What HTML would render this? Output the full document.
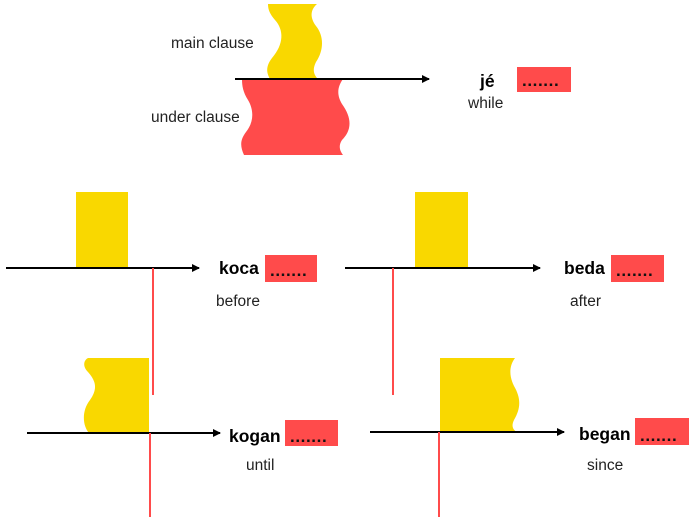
<!DOCTYPE html>
<html><head><meta charset="utf-8"><style>
html,body{margin:0;padding:0;background:#fff;}
svg{display:block;}
text{font-family:"Liberation Sans",Arial,sans-serif;}
.b{font-weight:bold;font-size:17.5px;fill:#000;}
.n{font-size:15.5px;fill:#222;}
.d{font-weight:bold;font-size:17px;fill:#111;letter-spacing:0.6px;}
</style></head><body>
<svg width="694" height="519" viewBox="0 0 694 519" xmlns="http://www.w3.org/2000/svg">
<defs>
<marker id="ah" markerWidth="8" markerHeight="8" refX="7" refY="4" orient="auto" markerUnits="userSpaceOnUse">
<path d="M0,0 L8,4 L0,8 z" fill="#000"/></marker>
</defs>
<!-- top -->
<path d="M268,4 L317,4 C310,10 310,18 316,26 C324,36 324,50 316,62 C312,70 314,75 318,79 L270,79 C266,72 266,66 272,58 C284,44 284,30 275,20 C270,14 268,10 268,4 Z" fill="#f9d800"/>
<path d="M242,79 L343,79 C338,86 336,94 342,104 C352,118 352,130 342,140 C338,146 340,151 343,155 L244,155 C240,146 240,140 246,132 C254,122 254,110 248,100 C243,92 242,86 242,79 Z" fill="#ff4b4b"/>
<line x1="235" y1="79" x2="429" y2="79" stroke="#000" stroke-width="2" marker-end="url(#ah)"/>
<text x="171" y="48" class="n">main clause</text>
<text x="151" y="122" class="n">under clause</text>
<text x="480" y="87" class="b">jé</text>
<rect x="517" y="67" width="54" height="25" fill="#ff4b4b"/>
<text x="522" y="86" class="d">.......</text>
<text x="468" y="108" class="n">while</text>

<!-- panel 1 -->
<rect x="76" y="192" width="52" height="76" fill="#f9d800"/>
<line x1="6" y1="268" x2="199" y2="268" stroke="#000" stroke-width="2" marker-end="url(#ah)"/>
<line x1="153" y1="268" x2="153" y2="395" stroke="#ff4b4b" stroke-width="2"/>
<text x="219" y="274" class="b">koca</text>
<rect x="265" y="255" width="52" height="27" fill="#ff4b4b"/>
<text x="270" y="276" class="d">.......</text>
<text x="216" y="306" class="n">before</text>

<!-- panel 2 -->
<rect x="415" y="192" width="53" height="76" fill="#f9d800"/>
<line x1="345" y1="268" x2="540" y2="268" stroke="#000" stroke-width="2" marker-end="url(#ah)"/>
<line x1="393" y1="268" x2="393" y2="395" stroke="#ff4b4b" stroke-width="2"/>
<text x="564" y="274" class="b">beda</text>
<rect x="611" y="255" width="53" height="27" fill="#ff4b4b"/>
<text x="616" y="276" class="d">.......</text>
<text x="570" y="306" class="n">after</text>

<!-- panel 3 -->
<path d="M88,358 L149,358 L149,433 L89,433 C82,425 82,410 90,400 C97,390 97,382 88,372 C82,366 84,360 88,358 Z" fill="#f9d800"/>
<line x1="27" y1="433" x2="220" y2="433" stroke="#000" stroke-width="2" marker-end="url(#ah)"/>
<line x1="150" y1="433" x2="150" y2="517" stroke="#ff4b4b" stroke-width="2"/>
<text x="229" y="442" class="b">kogan</text>
<rect x="285" y="420" width="53" height="26" fill="#ff4b4b"/>
<text x="290" y="442" class="d">.......</text>
<text x="246" y="470" class="n">until</text>

<!-- panel 4 -->
<path d="M440,358 L515,358 C509,366 509,376 514,386 C521,398 521,408 514,420 C511,426 513,430 517,432 L440,432 Z" fill="#f9d800"/>
<line x1="370" y1="432" x2="564" y2="432" stroke="#000" stroke-width="2" marker-end="url(#ah)"/>
<line x1="439" y1="432" x2="439" y2="517" stroke="#ff4b4b" stroke-width="2"/>
<text x="579" y="440" class="b">began</text>
<rect x="635" y="418" width="54" height="27" fill="#ff4b4b"/>
<text x="640" y="441" class="d">.......</text>
<text x="587" y="470" class="n">since</text>
</svg>
</body></html>
